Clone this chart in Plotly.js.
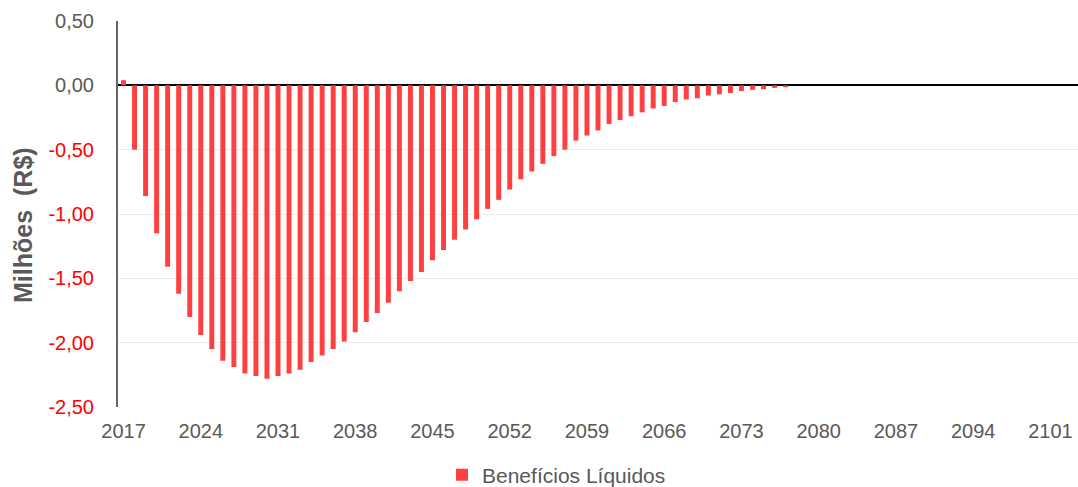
<!DOCTYPE html>
<html>
<head>
<meta charset="utf-8">
<script src="https://cdn.plot.ly/plotly-3.0.1.min.js"></script>
<style>html,body{margin:0;padding:0;background:#fff;}#chart{width:1078px;height:487px;}</style>
</head>
<body>
<div id="chart"></div>
<script>
const years = [2017,2018,2019,2020,2021,2022,2023,2024,2025,2026,2027,2028,2029,2030,
  2031,2032,2033,2034,2035,2036,2037,2038,2039,2040,2041,2042,2043,2044,2045,2046,
  2047,2048,2049,2050,2051,2052,2053,2054,2055,2056,2057,2058,2059,2060,2061,2062,
  2063,2064,2065,2066,2067,2068,2069,2070,2071,2072,2073,2074,2075,2076,2077,2078,
  2079,2080,2081,2082,2083,2084,2085,2086,2087,2088,2089,2090,2091,2092,2093,2094,
  2095,2096,2097,2098,2099,2100,2101,2102,2103];

const beneficiosLiquidos = [0.04,-0.50,-0.86,-1.15,-1.41,-1.62,-1.80,-1.94,-2.05,-2.14,
  -2.19,-2.24,-2.26,-2.28,-2.26,-2.24,-2.21,-2.15,-2.10,-2.05,-1.99,-1.92,-1.84,-1.77,
  -1.69,-1.60,-1.52,-1.45,-1.36,-1.28,-1.20,-1.12,-1.04,-0.96,-0.89,-0.81,-0.73,-0.67,
  -0.61,-0.55,-0.50,-0.43,-0.39,-0.35,-0.30,-0.27,-0.24,-0.21,-0.18,-0.16,-0.13,-0.11,
  -0.10,-0.08,-0.07,-0.06,-0.045,-0.035,-0.03,-0.02,-0.015];

const xTickLabels = ["2017","2024","2031","2038","2045","2052","2059","2066","2073","2080","2087","2094","2101"];
const yTickVals = [0.5,0,-0.5,-1,-1.5,-2,-2.5];
const seriesName = 'Benefícios Líquidos';
const yTitle = 'Milhões\u00a0 (R$)';

const yTickText = yTickVals.map(v => {
  const s = v.toFixed(2).replace('.', ',');
  return v < 0 ? '<span style="color:#FF0000">' + s + '</span>' : s;
});

const cats = years.map(String);

const trace = {
  type: 'bar',
  name: seriesName,
  x: cats.slice(0, beneficiosLiquidos.length),
  y: beneficiosLiquidos,
  marker: {color: '#FF4040'},
  hoverinfo: 'x+y'
};

const layout = {
  width: 1078, height: 487,
  margin: {l: 118, r: 0, t: 21, b: 80},
  paper_bgcolor: '#fff', plot_bgcolor: '#fff',
  font: {family: 'Liberation Sans, Arial, sans-serif', size: 20, color: '#595959'},
  bargap: 0.55,
  showlegend: true,
  legend: {orientation: 'h', x: 0.3375, xanchor: 'left', yref: 'container', y: 0.0246, yanchor: 'middle',
           font: {size: 21, color: '#595959'}},
  xaxis: {
    type: 'category', automargin: false,
    categoryorder: 'array', categoryarray: cats,
    range: [-0.5, cats.length - 0.5],
    tickvals: xTickLabels, ticktext: xTickLabels,
    showgrid: false, showline: false, ticks: '', zeroline: false,
    ticklabelstandoff: 10,
    tickfont: {size: 20, color: '#595959'}
  },
  yaxis: {
    automargin: false,
    range: [-2.5, 0.5],
    tickvals: yTickVals, ticktext: yTickText,
    showgrid: true, gridcolor: '#EBEBEB', gridwidth: 1,
    showline: true, linecolor: '#666666', linewidth: 2,
    zeroline: true, zerolinecolor: '#000000', zerolinewidth: 2,
    ticks: '', ticklabelstandoff: 18,
    tickfont: {size: 20, color: '#595959'}
  },
  annotations: [{
    text: '<b>' + yTitle + '</b>', textangle: -90,
    xref: 'paper', yref: 'paper', x: -0.099, y: 0.4715,
    xanchor: 'center', yanchor: 'middle', showarrow: false,
    font: {size: 25, color: '#595959'}
  }]
};

Plotly.newPlot('chart', [trace], layout, {displayModeBar: false, staticPlot: true});
</script>
</body>
</html>
